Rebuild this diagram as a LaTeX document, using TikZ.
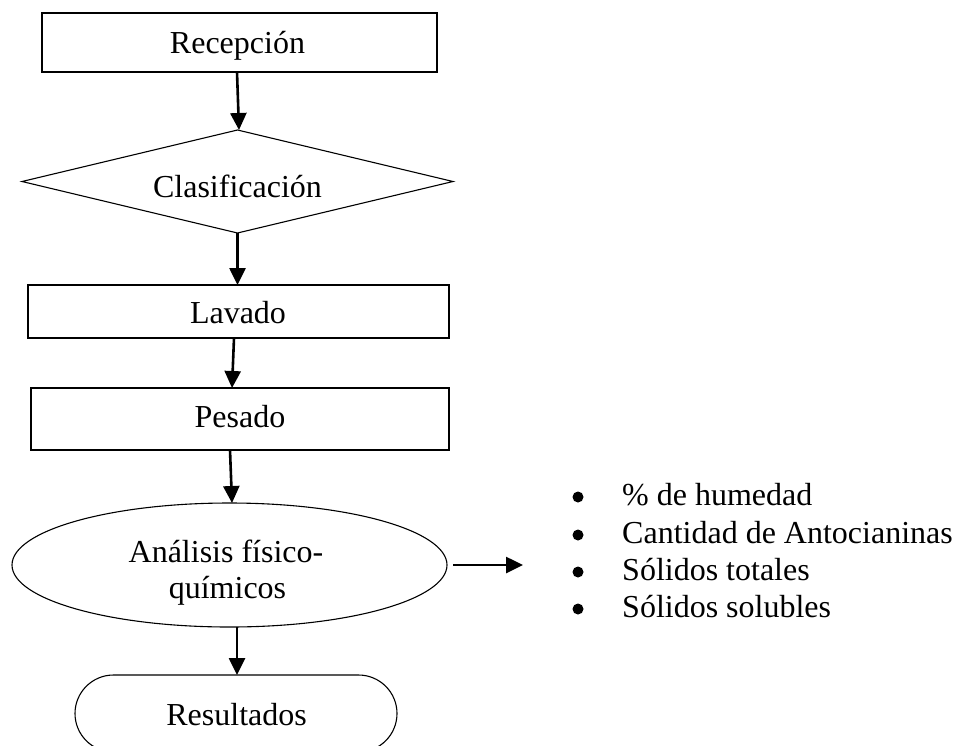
\documentclass[tikz,border=0pt]{standalone}
\usepackage{fontspec}
\setmainfont{Liberation Serif}
\usetikzlibrary{shapes.geometric,arrows.meta}
\begin{document}
\begin{tikzpicture}[x=1pt,y=-1pt,
  shapebox/.style={draw=black,line width=1.1pt,inner sep=0pt,outer sep=0pt},
  boxnode/.style={shapebox,rectangle},
  lbl/.style={inner sep=0pt,anchor=base,font=\fontsize{32}{37}\selectfont},
  item/.style={inner sep=0pt,anchor=base west,font=\fontsize{32}{37}\selectfont},
  dot/.style={circle,fill=black,inner sep=0pt,minimum size=11pt},
  flow/.style={line width=2.6pt,-{Triangle[length=17pt,width=16pt]}}]
\useasboundingbox (0,0) rectangle (955,745);

% process shapes
\node[boxnode,minimum width=395pt,minimum height=59pt] (rec) at (239.5,42.5) {};
\node[shapebox,diamond,minimum width=431pt,minimum height=103pt] (cla) at (237.5,181.5) {};
\node[boxnode,minimum width=421pt,minimum height=53pt] (lav) at (238.5,311.5) {};
\node[boxnode,minimum width=418pt,minimum height=62pt] (pes) at (240,419) {};
\node[shapebox,ellipse,minimum width=435pt,minimum height=124pt] (ana) at (229.5,565) {};
\node[boxnode,rounded corners=38.5pt,minimum width=322pt,minimum height=77pt] (res) at (236,713.5) {};

% labels
\node[lbl] (recT) at (237.5,53) {Recepción};
\node[lbl] (claT) at (237.5,197) {Clasificación};
\node[lbl] (lavT) at (238,323) {Lavado};
\node[lbl] (pesT) at (240,427) {Pesado};
\node[lbl] (anaT1) at (226,562) {Análisis físico-};
\node[lbl] (anaT2) at (227.5,598) {químicos};
\node[lbl] (resT) at (236.6,725) {Resultados};

% connectors
\draw[flow] ([xshift=-2.5pt]rec.south) -- ([xshift=1.5pt]cla.north);
\draw[flow] (cla.south) -- ([xshift=-1pt]lav.north);
\draw[flow] ([xshift=-4.5pt]lav.south) -- ([xshift=-8pt]pes.north);
\draw[flow] ([xshift=-10pt]pes.south) -- ([xshift=2.5pt]ana.north);
\draw[flow] ([xshift=7.5pt]ana.south) -- ([xshift=1pt]res.north);

\coordinate (listin) at (523,565);
\draw[flow] ([xshift=6pt]ana.east) -- (listin);

% list of analyses
\node[dot] (b1) at (578,497) {};
\node[dot] (b2) at (578,535) {};
\node[dot] (b3) at (578,572) {};
\node[dot] (b4) at (578,609) {};
\node[item] (i1) at (622,505) {\% de humedad};
\node[item] (i2) at (622,543) {Cantidad de Antocianinas};
\node[item] (i3) at (622,580) {Sólidos totales};
\node[item] (i4) at (622,617) {Sólidos solubles};
\end{tikzpicture}
\end{document}
